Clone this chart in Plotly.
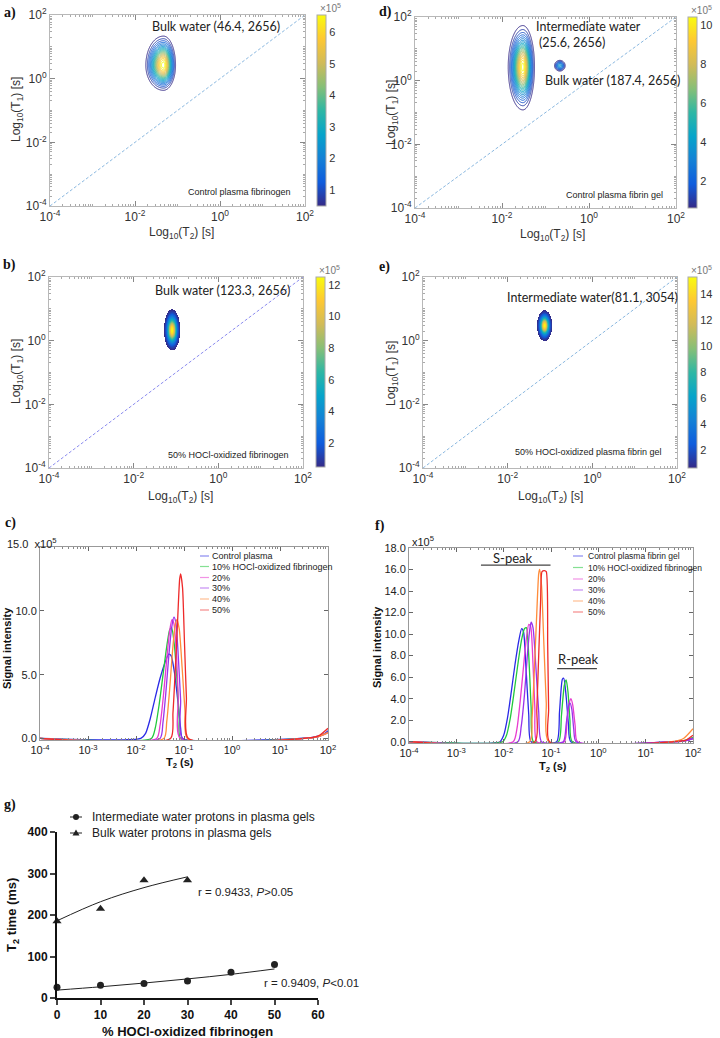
import numpy as np
import plotly.graph_objects as go

W, H = 720, 1038

# parula-like colour map (MATLAB)
PARULA = [[0.0, '#352a87'], [0.125, '#0f5cdd'], [0.25, '#1481d6'], [0.375, '#06a4ca'],
          [0.5, '#2eb7a4'], [0.625, '#87bf77'], [0.75, '#d1bb59'], [0.875, '#fec832'],
          [1.0, '#f9fb0e']]

# ---------------- T1-T2 maps: peak centre (log10 s), widths (decades), height (x1e5)
a_t2c = [-1.33]
a_t1c = [0.42]
a_wl, a_wr, a_wd, a_wu = [0.19], [0.13], [0.36], [0.42]
a_amp = [6.5]

d_t2c = [-1.52, -0.67]
d_t1c = [0.43, 0.47]
d_wl, d_wr, d_wd, d_wu = [0.145, 0.065], [0.115, 0.065], [0.58, 0.09], [0.56, 0.09]
d_amp = [10.4, 4.0]

b_t2c = [-1.09]
b_t1c = [0.33]
b_wl, b_wr, b_wd, b_wu = [0.075], [0.075], [0.25], [0.26]
b_amp = [12.5]

e_t2c = [-1.13]
e_t1c = [0.47]
e_wl, e_wr, e_wd, e_wu = [0.07], [0.07], [0.19], [0.19]
e_amp = [15.2]

diag = [-4, 2]

# ---------------- T2 spectra (log10 T2 [s], intensity x1e5)
c_names = ["Control plasma", "10% HOCl-oxidized fibrinogen", "20%", "30%", "40%", "50%"]
f_names = ["Control plasma fibrin gel", "10% HOCl-oxidized fibrinogen", "20%", "30%", "40%", "50%"]
line_colors = ['#2a2ae6', '#22c83c', '#e83cd0', '#9a32ec', '#ff8c3a', '#ee2a2a']

c_logt2 = [
    [-4, -1.9, -1.8, -1.7, -1.6, -1.5, -1.4, -1.32, -1.27, -1.2, -1.13, -1.07, -1.03, 1.4, 1.7, 1.9, 2.0],
    [-4, -1.68, -1.6, -1.52, -1.44, -1.36, -1.3, -1.26, -1.2, -1.14, -1.1, -1.07, 1.5, 1.8, 2.0],
    [-4, -1.57, -1.5, -1.43, -1.36, -1.3, -1.25, -1.21, -1.16, -1.12, -1.08, 1.5, 1.8, 2.0],
    [-4, -1.5, -1.44, -1.38, -1.32, -1.26, -1.21, -1.17, -1.12, -1.07, -1.03, 1.5, 1.8, 2.0],
    [-4, -1.42, -1.36, -1.3, -1.24, -1.19, -1.15, -1.1, -1.04, -0.98, -0.93, 1.5, 1.8, 2.0],
    [-4, -1.28, -1.23, -1.18, -1.13, -1.09, -1.07, -1.03, -0.99, -0.95, -0.91, 1.5, 1.8, 2.0],
]
c_int = [
    [0, 0, 0.4, 1.6, 3.2, 4.7, 5.9, 6.6, 6.5, 5.2, 3.0, 0.8, 0, 0, 0.1, 0.3, 0.6],
    [0, 0, 0.8, 2.6, 4.9, 7.2, 8.5, 8.7, 7.3, 4.2, 1.6, 0, 0, 0.15, 0.5],
    [0, 0, 1.0, 3.3, 6.2, 8.4, 9.3, 9.0, 6.8, 3.2, 0, 0, 0.15, 0.45],
    [0, 0, 1.2, 3.5, 6.3, 8.6, 9.5, 9.1, 6.5, 3.0, 0, 0, 0.15, 0.5],
    [0, 0, 1.3, 3.8, 6.8, 8.7, 9.3, 8.6, 5.6, 2.2, 0, 0, 0.15, 0.45],
    [0, 0, 2.0, 5.5, 9.5, 12.5, 12.9, 11.8, 7.5, 3.2, 0, 0, 0.2, 0.8],
]

f_logt2 = [
    [-4, -2.08, -2.0, -1.92, -1.84, -1.76, -1.68, -1.62, -1.58, -1.53, -1.47, -1.42,
     -0.88, -0.82, -0.76, -0.73, -0.68, -0.63, -0.58, 1.6, 1.85, 2.0],
    [-4, -2.02, -1.94, -1.86, -1.78, -1.7, -1.62, -1.56, -1.52, -1.47, -1.42, -1.37,
     -0.84, -0.78, -0.72, -0.68, -0.64, -0.6, -0.55, 1.6, 1.85, 2.0],
    [-4, -1.8, -1.72, -1.65, -1.58, -1.52, -1.47, -1.43, -1.38, -1.34, -1.3,
     -0.72, -0.66, -0.61, -0.58, -0.54, -0.49, -0.44, 1.6, 1.85, 2.0],
    [-4, -1.7, -1.63, -1.56, -1.5, -1.45, -1.42, -1.38, -1.32, -1.26, -1.2,
     -0.74, -0.68, -0.63, -0.6, -0.56, -0.52, -0.47, 1.6, 1.85, 2.0],
    [-4, -1.45, -1.4, -1.35, -1.3, -1.26, -1.24, -1.2, -1.15, -1.1, -1.05, 1.55, 1.8, 2.0],
    [-4, -1.34, -1.3, -1.26, -1.22, -1.19, -1.14, -1.1, -1.07, -1.05, -1.03, 1.6, 1.85, 2.0],
]
f_int = [
    [0, 0, 0.6, 2.2, 4.6, 7.2, 9.4, 10.5, 10.2, 7.0, 2.5, 0, 0, 2.8, 5.8, 5.9, 4.2, 1.6, 0, 0, 0.1, 0.3],
    [0, 0, 0.6, 2.2, 4.6, 7.2, 9.5, 10.5, 10.6, 8.0, 3.2, 0, 0, 2.4, 5.2, 5.75, 4.6, 2.0, 0, 0, 0.15, 0.4],
    [0, 0, 1.2, 3.8, 7.0, 9.6, 10.9, 10.7, 7.2, 3.0, 0, 0, 2.0, 3.7, 4.0, 3.4, 1.5, 0, 0, 0.1, 0.3],
    [0, 0, 1.4, 4.4, 8.0, 10.4, 11.1, 10.6, 7.0, 2.8, 0, 0, 1.6, 3.3, 3.6, 3.0, 1.2, 0, 0, 0.1, 0.3],
    [0, 0, 2.2, 6.8, 12.0, 15.6, 16.0, 14.5, 9.0, 3.6, 0, 0, 0.3, 1.2],
    [0, 0, 3.0, 8.0, 13.0, 15.8, 15.9, 15.8, 9.0, 3.0, 0, 0, 0.15, 0.6],
]
s_peak_bar = [-2.48, -1.01]
s_peak_lvl = 16.4
r_peak_bar = [-0.87, -0.03]
r_peak_lvl = 6.8

# ---------------- panel g
g_pct_i = [0, 10, 20, 30, 40, 50]
g_t2_i = [26, 31, 35, 41, 62, 81]
g_fit_i = [19, 27, 36, 46, 57, 70]
g_pct_b = [0, 10, 20, 30]
g_t2_b = [185, 215, 284, 284]
g_fit_b = [186, 232, 266, 292]


def dom(l, t, r, b):
    return [l / W, r / W], [1 - b / H, 1 - t / H]


def ax(n):
    return ('x', 'y') if n == 1 else (f'x{n}', f'y{n}')


def axkey(n):
    return ('xaxis', 'yaxis') if n == 1 else (f'xaxis{n}', f'yaxis{n}')


def t1t2_map(gx, gy, t2c, t1c, wl, wr, wd, wu, amp):
    X, Y = np.meshgrid(gx, gy)
    Z = np.zeros_like(X)
    for i in range(len(amp)):
        dx = X - t2c[i]
        dy = Y - t1c[i]
        sx = np.where(dx < 0, wl[i], wr[i])
        sy = np.where(dy < 0, wd[i], wu[i])
        Z += amp[i] * np.exp(-0.5 * ((dx / sx) ** 2 + (dy / sy) ** 2))
    return Z


def pow10(p):
    return '10<sup>%d</sup>' % p


fig = go.Figure()
ann = []
shapes = []

SANS = 'Liberation Sans'
MAP_TICKS = [-4, -2, 0, 2]
MAP_TXT = [pow10(p) for p in MAP_TICKS]
MAP_MINOR = [d + np.log10(k) for d in range(-4, 2) for k in range(2, 10)] + [-3, -1, 1]


def map_panel(n, box, cb, cticks, crange, diag_color):
    xd, yd = dom(*box)
    xk, yk = axkey(n)
    xa, ya = ax(n)
    common = dict(range=[-4, 2], tickvals=MAP_TICKS, ticktext=MAP_TXT, ticks='inside', ticklen=5,
                  tickcolor='#888', showline=True, linecolor='#b8b8b8', linewidth=1, mirror='ticks',
                  showgrid=False, zeroline=False, automargin=False,
                  tickfont=dict(family=SANS, size=12, color='#333'),
                  minor=dict(tickvals=MAP_MINOR, ticks='inside', ticklen=2, tickcolor='#aaa'))
    fig.layout[xk] = dict(domain=xd, anchor=ya, **common)
    fig.layout[yk] = dict(domain=yd, anchor=xa, **common)
    fig.add_trace(go.Scatter(x=diag, y=diag, mode='lines', xaxis=xa, yaxis=ya, showlegend=False,
                             line=dict(color=diag_color, width=1, dash='3px,2px'), hoverinfo='skip'))
    # colour bar from an empty marker trace
    left, top, ln = cb
    fig.add_trace(go.Scatter(
        x=[None], y=[None], mode='markers', xaxis=xa, yaxis=ya, showlegend=False, hoverinfo='skip',
        marker=dict(color=[crange[0]], cmin=crange[0], cmax=crange[1], colorscale=PARULA, showscale=True,
                    colorbar=dict(x=left / W, xanchor='left', xpad=0, y=1 - top / H, yanchor='top', ypad=0,
                                  lenmode='pixels', len=ln, thickness=9, outlinewidth=1, outlinecolor='#aaa',
                                  tickvals=cticks, ticks='', tickfont=dict(family=SANS, size=11, color='#333')))))
    ann.append(dict(x=(left + 13) / W, y=1 - (top - 7) / H, xref='paper', yref='paper', text='×10<sup>5</sup>',
                    showarrow=False, font=dict(family=SANS, size=10, color='#777')))


# ---- a
map_panel(1, (50, 15, 305, 206), (317, 15, 191), [1, 2, 3, 4, 5, 6], [0.5, 6.55], '#8ab8e0')
gx = np.arange(-2.6, 0.2, 0.012)
gy = np.arange(-1.8, 2.4, 0.012)
fig.add_trace(go.Contour(x=gx, y=gy, z=t1t2_map(gx, gy, a_t2c, a_t1c, a_wl, a_wr, a_wd, a_wu, a_amp),
                         xaxis='x', yaxis='y', colorscale=PARULA, zmin=0.5, zmax=6.55, showscale=False,
                         contours=dict(coloring='lines', start=0.6, end=6.4, size=0.3),
                         line=dict(width=1, smoothing=1), hoverinfo='skip'))

# ---- d
map_panel(2, (415, 17, 676, 208), (688, 17, 191), [2, 4, 6, 8, 10], [0.6, 10.4], '#8ab8e0')
gx = np.arange(-2.6, 0.2, 0.012)
gy = np.arange(-2.2, 2.6, 0.012)
fig.add_trace(go.Contour(x=gx, y=gy, z=t1t2_map(gx, gy, d_t2c, d_t1c, d_wl, d_wr, d_wd, d_wu, d_amp),
                         xaxis='x2', yaxis='y2', colorscale=PARULA, zmin=0.6, zmax=10.4, showscale=False,
                         contours=dict(coloring='lines', start=0.7, end=10.2, size=0.45),
                         line=dict(width=1, smoothing=1), hoverinfo='skip'))

# ---- b
map_panel(3, (49, 277, 303, 468), (316, 277, 190), [2, 4, 6, 8, 10, 12], [0.5, 12.5], '#8c8cf0')
gx = np.arange(-1.6, -0.58, 0.005)
gy = np.arange(-0.7, 1.4, 0.005)
zb = t1t2_map(gx, gy, b_t2c, b_t1c, b_wl, b_wr, b_wd, b_wu, b_amp)
fig.add_trace(go.Heatmap(x=gx, y=gy, z=np.where(zb >= 0.5, zb, np.nan), xaxis='x3', yaxis='y3',
                         colorscale=PARULA, zmin=0.5, zmax=12.5, showscale=False, hoverinfo='skip'))

# ---- e
map_panel(4, (423, 277, 677, 468), (688, 277, 191), [2, 4, 6, 8, 10, 12, 14], [0.6, 15.3], '#8ab8e0')
gx = np.arange(-1.6, -0.66, 0.005)
gy = np.arange(-0.5, 1.45, 0.005)
ze = t1t2_map(gx, gy, e_t2c, e_t1c, e_wl, e_wr, e_wd, e_wu, e_amp)
fig.add_trace(go.Heatmap(x=gx, y=gy, z=np.where(ze >= 0.6, ze, np.nan), xaxis='x4', yaxis='y4',
                         colorscale=PARULA, zmin=0.6, zmax=15.3, showscale=False, hoverinfo='skip'))

# map texts
TXT = dict(family='Lato', size=12.5, color='#222')
SMALL = dict(family=SANS, size=9, color='#222')
ann += [
    dict(x=-0.09, y=1.65, xref='x', yref='y', text='Bulk water (46.4, 2656)', showarrow=False, font=TXT),
    dict(x=0.45, y=-3.57, xref='x', yref='y', text='Control plasma fibrinogen', showarrow=False, font=SMALL),
    dict(x=-1.26, y=1.69, xref='x2', yref='y2', text='Intermediate water', showarrow=False, font=TXT, xanchor='left'),
    dict(x=-1.19, y=1.19, xref='x2', yref='y2', text='(25.6, 2656)', showarrow=False, font=TXT, xanchor='left'),
    dict(x=-1.06, y=-0.01, xref='x2', yref='y2', text='Bulk water (187.4, 2656)', showarrow=False, font=TXT,
         xanchor='left'),
    dict(x=0.59, y=-3.59, xref='x2', yref='y2', text='Control plasma fibrin gel', showarrow=False, font=SMALL),
    dict(x=0.09, y=1.57, xref='x3', yref='y3', text='Bulk water (123.3, 2656)', showarrow=False, font=TXT),
    dict(x=0.25, y=-3.59, xref='x3', yref='y3', text='50% HOCl-oxidized fibrinogen', showarrow=False, font=SMALL),
    dict(x=0.0, y=1.36, xref='x4', yref='y4', text='Intermediate water(81.1, 3054)', showarrow=False, font=TXT),
    dict(x=-0.08, y=-3.49, xref='x4', yref='y4', text='50% HOCl-oxidized plasma fibrin gel', showarrow=False,
         font=SMALL),
]
XT = 'Log<sub>10</sub>(T<sub>2</sub>) [s]'
YT = 'Log<sub>10</sub>(T<sub>1</sub>) [s]'
AXF = dict(family=SANS, size=12, color='#333')
for (xx, yy, t, ang) in [(181, 233, XT, 0), (17, 110, YT, -90), (552, 235, XT, 0), (392, 112, YT, -90),
                         (180, 497, XT, 0), (17, 372, YT, -90), (550, 497, XT, 0), (392, 373, YT, -90)]:
    ann.append(dict(x=xx / W, y=1 - yy / H, xref='paper', yref='paper', text=t, textangle=ang,
                    showarrow=False, font=AXF))


# ---------------- c and f spectra
def spec_panel(n, box, logx, ys, names, ymax, yticks, ytext, leg_line, leg_text, leg_rows, leg_size):
    xd, yd = dom(*box)
    xk, yk = axkey(n)
    xa, ya = ax(n)
    fig.layout[xk] = dict(domain=xd, anchor=ya, type='log', range=[-4, 2],
                          tickvals=[10.0 ** p for p in range(-4, 3)], ticktext=[pow10(p) for p in range(-4, 3)],
                          ticks='inside', ticklen=4, tickcolor='#666', showline=True, linecolor='#999',
                          mirror='ticks', showgrid=False, zeroline=False, automargin=False,
                          tickfont=dict(family=SANS, size=11, color='#222'),
                          minor=dict(tickvals=[k * 10.0 ** d for d in range(-4, 2) for k in range(2, 10)],
                                     ticks='inside', ticklen=2, tickcolor='#888'))
    fig.layout[yk] = dict(domain=yd, anchor=xa, range=[-0.12, ymax], tickvals=yticks,
                          ticktext=ytext, ticks='inside', ticklen=4, tickcolor='#666',
                          showline=True, linecolor='#999', mirror='ticks', showgrid=False, zeroline=False,
                          automargin=False, tickfont=dict(family=SANS, size=11, color='#222'))
    for i in range(len(names)):
        fig.add_trace(go.Scatter(x=[10 ** v for v in logx[i]], y=ys[i], mode='lines', xaxis=xa, yaxis=ya,
                                 line=dict(color=line_colors[i], width=1.3, shape='spline', smoothing=0.6),
                                 showlegend=False, hoverinfo='skip'))
        yy = 1 - leg_rows[i] / H
        shapes.append(dict(type='line', xref='paper', yref='paper', x0=leg_line[0] / W, x1=leg_line[1] / W,
                           y0=yy, y1=yy, line=dict(color=line_colors[i], width=1.2), opacity=0.55))
        ann.append(dict(x=leg_text / W, y=yy, xref='paper', yref='paper', text=names[i], showarrow=False,
                        xanchor='left', font=dict(family=SANS, size=leg_size, color='#222')))


c_ticks = [0, 5, 10, 15]
f_ticks = list(range(0, 19, 2))
spec_panel(5, (40, 547, 328, 740), c_logt2, c_int, c_names, 15, c_ticks,
           [f'{v:.1f}' for v in c_ticks[:-1]] + [''], (200, 209), 210, [556, 566.5, 577.5, 588, 599, 610], 9)
spec_panel(6, (409, 548, 693, 743), f_logt2, f_int, f_names, 18, f_ticks,
           [f'{v:.1f}' for v in f_ticks], (573, 583), 586, [556, 567.5, 579, 590, 601, 612], 8.5)

for bar, lvl in [(s_peak_bar, s_peak_lvl), (r_peak_bar, r_peak_lvl)]:
    fig.add_trace(go.Scatter(x=[10 ** v for v in bar], y=[lvl, lvl], mode='lines', xaxis='x6', yaxis='y6',
                             line=dict(color='#444', width=1.3), showlegend=False, hoverinfo='skip'))
PK = dict(family='Lato', size=13, color='#222')
ann += [
    dict(x=-1.82, y=17.1, xref='x6', yref='y6', text='S-peak', showarrow=False, font=PK),
    dict(x=-0.42, y=7.7, xref='x6', yref='y6', text='R-peak', showarrow=False, font=PK),
]
BOLD = dict(family=SANS, size=11, color='#111', weight='bold')
for (xx, yy, t, ang) in [(180, 763, 'T<sub>2</sub> (s)', 0), (7, 648, 'Signal intensity', -90),
                         (553, 767, 'T<sub>2</sub> (s)', 0), (377, 647, 'Signal intensity', -90)]:
    ann.append(dict(x=xx / W, y=1 - yy / H, xref='paper', yref='paper', text=t, textangle=ang,
                    showarrow=False, font=BOLD))
for (xx, yy, t) in [(5, 543, '15.0  x10<sup>5</sup>'), (410, 541, 'x10<sup>5</sup>')]:
    ann.append(dict(x=xx / W, y=1 - yy / H, xref='paper', yref='paper', text=t,
                    showarrow=False, xanchor='left', font=dict(family=SANS, size=11, color='#222')))

# ---------------- g
xd, yd = dom(57, 832, 318, 998)
GB = dict(family=SANS, size=12, color='#111', weight='bold')
fig.layout['xaxis7'] = dict(domain=xd, anchor='y7', range=[0, 60], dtick=10, ticks='outside', ticklen=5,
                            tickwidth=2, showline=True, linewidth=2, linecolor='#111', showgrid=False,
                            zeroline=False, automargin=False, tickfont=GB)
fig.layout['yaxis7'] = dict(domain=yd, anchor='x7', range=[0, 400], dtick=100, ticks='outside', ticklen=5,
                            tickwidth=2, showline=True, linewidth=2, linecolor='#111', showgrid=False,
                            zeroline=False, automargin=False, tickfont=GB)
fig.add_trace(go.Scatter(x=g_pct_i, y=g_fit_i, mode='lines', xaxis='x7', yaxis='y7', cliponaxis=False,
                         line=dict(color='#222', width=1, shape='spline'), showlegend=False))
fig.add_trace(go.Scatter(x=g_pct_b, y=g_fit_b, mode='lines', xaxis='x7', yaxis='y7', cliponaxis=False,
                         line=dict(color='#222', width=1, shape='spline'), showlegend=False))
fig.add_trace(go.Scatter(x=g_pct_i, y=g_t2_i, mode='markers', xaxis='x7', yaxis='y7', cliponaxis=False,
                         marker=dict(symbol='circle', size=7, color='#222'), showlegend=False))
fig.add_trace(go.Scatter(x=g_pct_b, y=g_t2_b, mode='markers', xaxis='x7', yaxis='y7', cliponaxis=False,
                         marker=dict(symbol='triangle-up', size=8, color='#222'), showlegend=False))
RT = dict(family=SANS, size=11.5, color='#222')
ann += [
    dict(x=43.4, y=256, xref='x7', yref='y7', text='r = 0.9433, <i>P</i>&gt;0.05', showarrow=False, font=RT),
    dict(x=311 / W, y=1 - 983 / H, xref='paper', yref='paper', text='r = 0.9409, <i>P</i>&lt;0.01',
         showarrow=False, font=RT),
    dict(x=187 / W, y=1 - 1031 / H, xref='paper', yref='paper', text='% HOCl-oxidized fibrinogen',
         showarrow=False, font=dict(family=SANS, size=13, color='#111', weight='bold')),
    dict(x=12 / W, y=1 - 915 / H, xref='paper', yref='paper', text='T<sub>2</sub> time (ms)', textangle=-90,
         showarrow=False, font=dict(family=SANS, size=13, color='#111', weight='bold')),
]
# legend of g
for row, label, sym in [(817, 'Intermediate water protons in plasma gels', 'circle'),
                        (833, 'Bulk water protons in plasma gels', 'triangle')]:
    yy = 1 - row / H
    shapes.append(dict(type='line', xref='paper', yref='paper', x0=70 / W, x1=82 / W, y0=yy, y1=yy,
                       line=dict(color='#222', width=1)))
    if sym == 'circle':
        shapes.append(dict(type='circle', xref='paper', yref='paper', x0=73 / W, x1=79 / W,
                           y0=1 - (row + 3) / H, y1=1 - (row - 3) / H, fillcolor='#222', line=dict(width=0)))
    else:
        p = f'M {72.5 / W},{1 - (row + 2.5) / H} L {79.5 / W},{1 - (row + 2.5) / H} L {76 / W},{1 - (row - 3.5) / H} Z'
        shapes.append(dict(type='path', xref='paper', yref='paper', path=p, fillcolor='#222', line=dict(width=0)))
    ann.append(dict(x=90 / W, y=yy, xref='paper', yref='paper', text=label, showarrow=False, xanchor='left',
                    font=dict(family=SANS, size=12, color='#222')))

# panel letters
for (xx, yy, t) in [(2, 13, 'a)'), (377, 12, 'd)'), (1, 265, 'b)'), (377, 267, 'e)'), (3, 523, 'c)'),
                    (373, 526, 'f)'), (2, 805, 'g)')]:
    ann.append(dict(x=xx / W, y=1 - yy / H, xref='paper', yref='paper', text=t, showarrow=False,
                    xanchor='left', font=dict(family='Liberation Serif', size=14, color='#111', weight='bold')))

# paper annotations default to "auto" anchors; pin them to the given point
for a in ann:
    a.setdefault('xanchor', 'center')
    a.setdefault('yanchor', 'middle')

fig.update_layout(width=W, height=H, autosize=False, margin=dict(l=0, r=0, t=0, b=0, autoexpand=False),
                  paper_bgcolor='white', plot_bgcolor='white', showlegend=False,
                  annotations=ann, shapes=shapes)

# the page body has a default 8px margin; drop it so the figure sits at the window origin
fig.write_html("out.html", config={'displayModeBar': False},
               post_script="document.body.style.margin='0';")
